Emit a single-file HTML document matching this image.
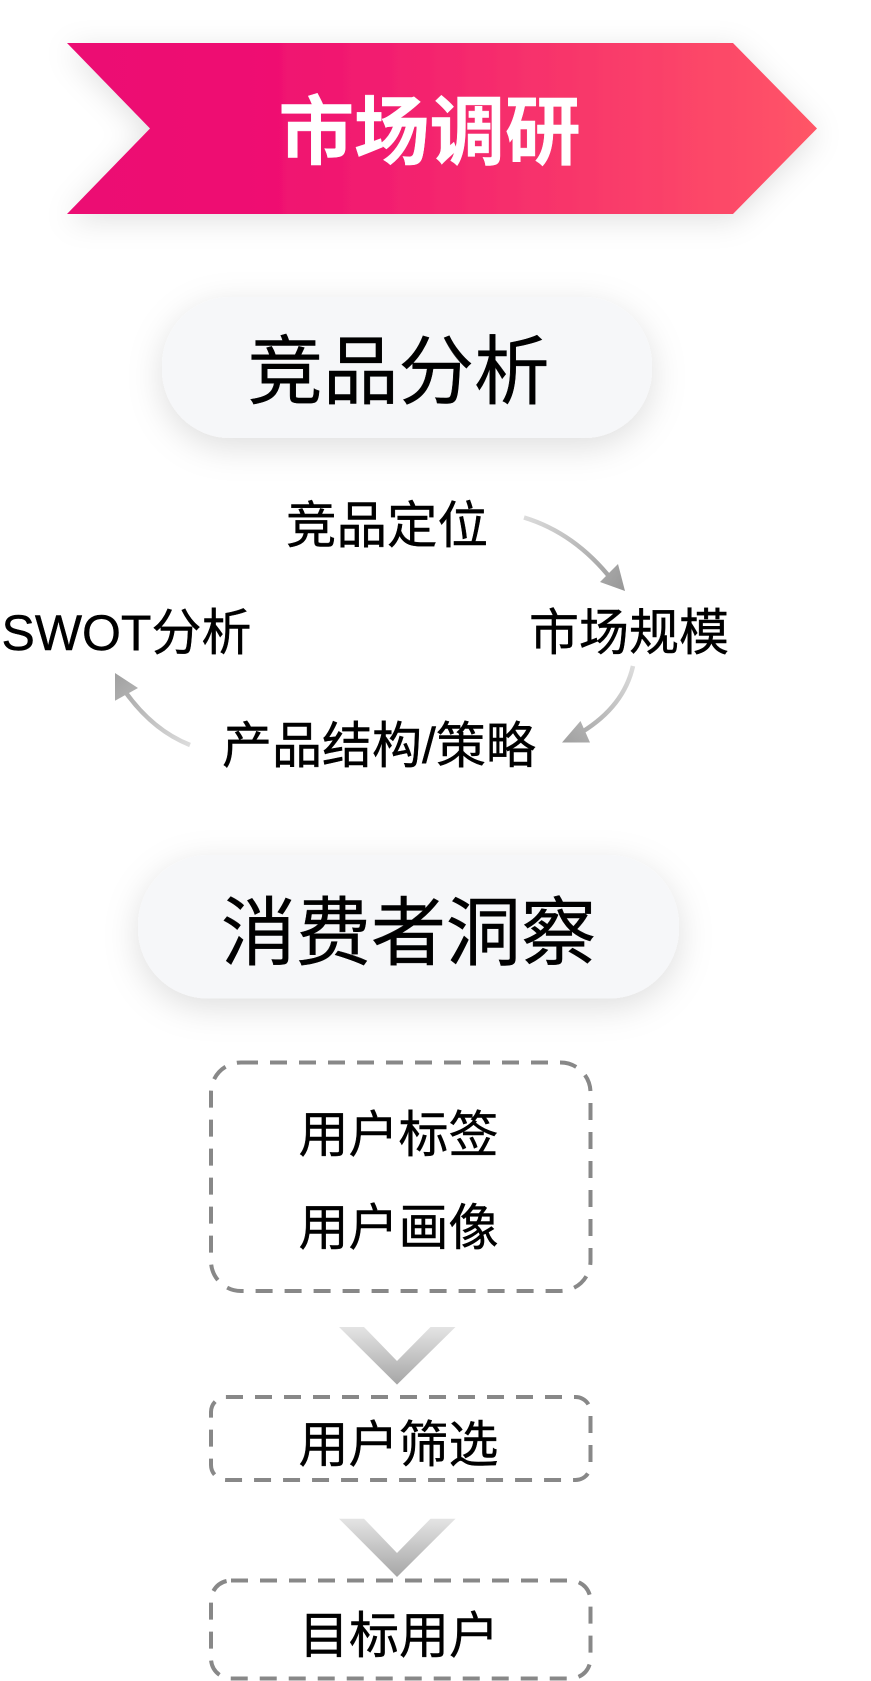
<!DOCTYPE html>
<html><head><meta charset="utf-8">
<style>
html,body{margin:0;padding:0;background:#fff;width:871px;height:1681px;overflow:hidden}
svg{display:block}
text{font-family:"Liberation Sans","Noto Sans CJK SC",sans-serif;fill:#000;stroke:#000;stroke-width:.45px}
</style></head><body>
<svg width="871" height="1681" viewBox="0 0 871 1681" xmlns="http://www.w3.org/2000/svg">
<defs>
<linearGradient id="b" x1="0" x2="1" y1="0" y2="0"><stop offset="0" stop-color="#ec0873"/><stop offset=".22" stop-color="#ee0b72"/><stop offset="1" stop-color="#ff5566"/></linearGradient>
<linearGradient id="c" x1="0" x2="0" y1="0" y2="1"><stop offset="0" stop-color="#e4e4e4"/><stop offset="1" stop-color="#a6a6a6"/></linearGradient>
<linearGradient id="a1" gradientUnits="userSpaceOnUse" x1="524" y1="517" x2="625" y2="591"><stop offset="0" stop-color="#dcdcdc"/><stop offset="1" stop-color="#979797"/></linearGradient>
<linearGradient id="a2" gradientUnits="userSpaceOnUse" x1="633" y1="666" x2="562" y2="743"><stop offset="0" stop-color="#dcdcdc"/><stop offset="1" stop-color="#a0a0a0"/></linearGradient>
<linearGradient id="a3" gradientUnits="userSpaceOnUse" x1="190" y1="745" x2="115" y2="673"><stop offset="0" stop-color="#dcdcdc"/><stop offset="1" stop-color="#a0a0a0"/></linearGradient>
<filter id="s" x="-25%" y="-60%" width="150%" height="230%"><feDropShadow dx="0" dy="9" stdDeviation="17" flood-color="#000" flood-opacity=".13"/></filter>
<filter id="s2" x="-20%" y="-50%" width="140%" height="210%"><feDropShadow dx="0" dy="6" stdDeviation="15" flood-color="#000" flood-opacity=".12"/></filter>
</defs>
<polygon points="67,43 733,43 817,128.500 733,214 67,214 150,128.500" fill="url(#b)" filter="url(#s2)"/>
<text x="278.500" y="158.500" font-size="75.500" font-weight="700" style="fill:#fff;stroke:#fff">市场调研</text>

<rect x="162" y="297" width="490" height="141" rx="68" fill="#f6f7f9" filter="url(#s)"/>
<text x="247.500" y="398" font-size="75.500">竞品分析</text>

<text x="286" y="543" font-size="50.500">竞品定位</text>
<text x="529" y="650" font-size="50">市场规模</text>
<text x="1.500" y="650" font-size="50">SWOT分析</text>
<text x="222" y="763" font-size="50">产品结构/策略</text>

<path d="M524 517.500Q575 533 612 580" fill="none" stroke="url(#a1)" stroke-width="4.500"/>
<polygon points="625,591 600,582 618,564" fill="url(#a1)"/>
<path d="M633 666Q624 706 582 732" fill="none" stroke="url(#a2)" stroke-width="4.500"/>
<polygon points="562,742.500 580.500,721 590,742.500" fill="url(#a2)"/>
<path d="M190 745Q152 730 124 690" fill="none" stroke="url(#a3)" stroke-width="4.500"/>
<polygon points="115,673 115,700.700 138,688" fill="url(#a3)"/>

<rect x="138" y="855" width="541" height="143.500" rx="70" fill="#f6f7f9" filter="url(#s)"/>
<text x="221" y="959" font-size="75">消费者洞察</text>

<g fill="none" stroke="#888" stroke-width="4" stroke-dasharray="17 12">
<rect x="211" y="1062.500" width="379.500" height="228.500" rx="30"/>
<rect x="211" y="1397" width="379.500" height="83" rx="15"/>
<rect x="211" y="1580.500" width="379.500" height="98" rx="20"/>
</g>
<text x="298.500" y="1152" font-size="50">用户标签</text>
<text x="298.500" y="1245" font-size="50">用户画像</text>
<text x="298.500" y="1462" font-size="50">用户筛选</text>
<text x="299" y="1653" font-size="50">目标用户</text>

<polygon points="339,1327 364,1327 397,1361 430.500,1327 455.500,1327 397,1384.600" fill="url(#c)"/>
<polygon points="339,1518.700 364,1518.700 397,1553 430.500,1518.700 455.500,1518.700 397,1577" fill="url(#c)"/>
</svg>
</body></html>
